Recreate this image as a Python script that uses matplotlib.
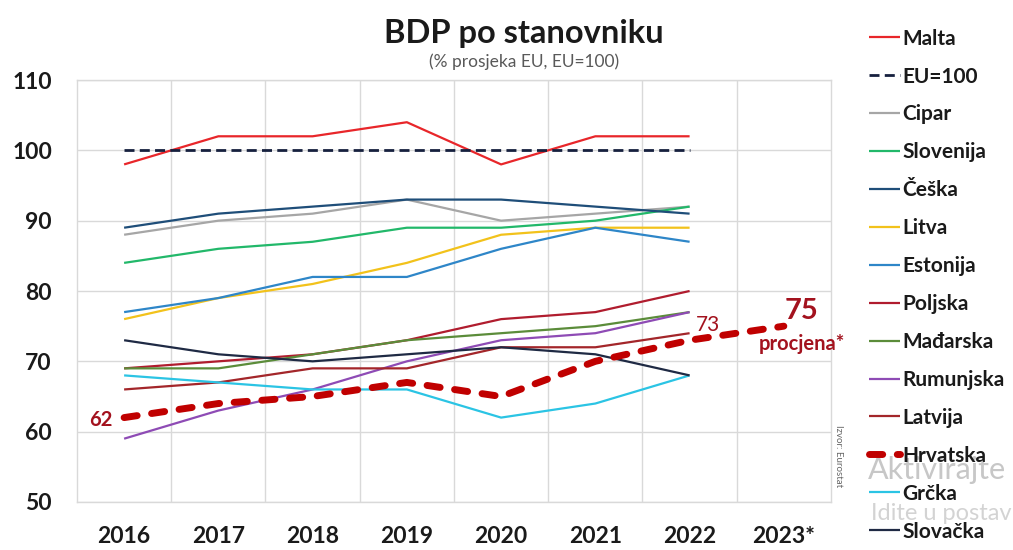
import matplotlib.pyplot as plt
import numpy as np

plt.rcParams['font.family'] = ['Lato', 'DejaVu Sans']

years = ['2016', '2017', '2018', '2019', '2020', '2021', '2022', '2023*']

malta = [98, 102, 102, 104, 98, 102, 102]
eu = [100, 100, 100, 100, 100, 100, 100]
cipar = [88, 90, 91, 93, 90, 91, 92]
slovenija = [84, 86, 87, 89, 89, 90, 92]
ceska = [89, 91, 92, 93, 93, 92, 91]
litva = [76, 79, 81, 84, 88, 89, 89]
estonija = [77, 79, 82, 82, 86, 89, 87]
poljska = [69, 70, 71, 73, 76, 77, 80]
madarska = [69, 69, 71, 73, 74, 75, 77]
rumunjska = [59, 63, 66, 70, 73, 74, 77]
latvija = [66, 67, 69, 69, 72, 72, 74]
hrvatska = [62, 64, 65, 67, 65, 70, 73, 75]
grcka = [68, 67, 66, 66, 62, 64, 68]
slovacka = [73, 71, 70, 71, 72, 71, 68]

series = [
    ('Malta', malta, '#e8262a', '-', 1.6),
    ('EU=100', eu, '#16203e', (0, (3.6, 1.9)), 2.0),
    ('Cipar', cipar, '#a6a6a6', '-', 1.6),
    ('Slovenija', slovenija, '#22b86a', '-', 1.6),
    ('Češka', ceska, '#1f4e79', '-', 1.6),
    ('Litva', litva, '#f2c21b', '-', 1.6),
    ('Estonija', estonija, '#2e86c8', '-', 1.6),
    ('Poljska', poljska, '#b01c2e', '-', 1.6),
    ('Mađarska', madarska, '#5b8c3a', '-', 1.6),
    ('Rumunjska', rumunjska, '#8e4bb5', '-', 1.6),
    ('Latvija', latvija, '#a3262a', '-', 1.6),
    ('Hrvatska', hrvatska, '#c00000', (0, (1.9, 2.1)), 5.0),
    ('Grčka', grcka, '#2bc4e4', '-', 1.6),
    ('Slovačka', slovacka, '#1f2a44', '-', 1.6),
]

fig = plt.figure(figsize=(10.13, 5.5), dpi=100)
ax = fig.add_axes([0.076, 0.0873, 0.7443, 0.7672])

x = np.arange(len(years))
handles = []
for name, vals, col, ls, lw in series:
    z = 5 if name == 'Hrvatska' else 3
    h, = ax.plot(x[:len(vals)], vals, color=col, linestyle=ls, linewidth=lw,
                 label=name, zorder=z, solid_capstyle='butt',
                 dash_capstyle='round' if name == 'Hrvatska' else 'butt')
    handles.append(h)

ax.set_xlim(-0.5, len(years) - 0.5)
ax.set_ylim(50, 110)
ax.set_yticks(range(50, 111, 10))
ax.set_xticks(x)
ax.set_xticklabels(years)
ax.set_xticks(np.arange(0.5, len(years) - 0.5, 1), minor=True)
ax.grid(which='major', axis='y', color='#d9d9d9', linewidth=1)
ax.grid(which='minor', axis='x', color='#d9d9d9', linewidth=1)
ax.tick_params(which='both', length=0)
ax.tick_params(axis='x', labelsize=16.5, pad=17, labelcolor='#1a1a1a')
ax.tick_params(axis='y', labelsize=16.5, pad=18, labelcolor='#1a1a1a')
for t in ax.get_xticklabels() + ax.get_yticklabels():
    t.set_fontweight('bold')
for s in ax.spines.values():
    s.set_color('#d9d9d9')
    s.set_linewidth(1)

# annotations for Hrvatska
ax.text(-0.245, 61.7, '62', color='#a3121e', fontsize=14.5, fontweight='bold',
        ha='center', va='center')
ax.text(6.2, 75.1, '73', color='#a3121e', fontsize=15,
        ha='center', va='center')
ax.text(7.19, 77.1, '75', color='#a3121e', fontsize=21,
        fontweight='bold', ha='center', va='center')
ax.text(7.19, 72.4, 'procjena*', color='#a3121e', fontsize=14.5,
        fontweight='bold', ha='center', va='center', clip_on=False)

ax.text(7.58, 56.5, 'Izvor: Eurostat', rotation=270, fontsize=7, color='#666666',
        ha='center', va='center', clip_on=False)

fig.text(0.517, 0.94, 'BDP po stanovniku', ha='center', va='center',
         fontsize=23.5, fontweight='bold', color='#1a1a1a')
fig.text(0.517, 0.887, '(% prosjeka EU, EU=100)', ha='center', va='center',
         fontsize=12.5, color='#595959')

# screen watermark (sits behind the legend)
fig.text(0.993, 0.145, 'Aktivirajte', fontsize=22, color='#bdbdbd', ha='right',
         va='center', alpha=0.85, zorder=0)
fig.text(0.999, 0.067, 'Idite u postav', fontsize=17, color='#cccccc', ha='right',
         va='center', alpha=0.85, zorder=0)

leg = fig.legend(handles=handles, loc='upper left', bbox_to_anchor=(0.858, 0.948),
                 frameon=False, fontsize=15, handlelength=1.5, handletextpad=0.1,
                 labelspacing=0.86, borderaxespad=0, borderpad=0)
leg.set_zorder(5)
for t in leg.get_texts():
    t.set_fontweight('bold')
    t.set_color('#1a1a1a')

fig.savefig('out.png', dpi=100)
